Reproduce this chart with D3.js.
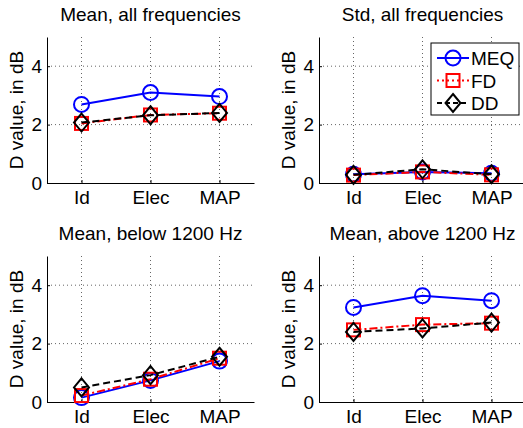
<!DOCTYPE html>
<html>
<head>
<meta charset="utf-8">
<script src="https://cdn.jsdelivr.net/npm/d3@7"></script>
<style>
  body { margin: 0; background: #fff; }
  svg { display: block; font-family: "Liberation Sans", Arial, Helvetica, sans-serif; }
</style>
</head>
<body>
<svg id="chart"></svg>
<script>
const width = 523;
const height = 428;

const categories = ["Id", "Elec", "MAP"];
const panelTitles = ["Mean, all frequencies", "Std, all frequencies", "Mean, below 1200 Hz", "Mean, above 1200 Hz"];
const seriesNames = ["MEQ", "FD", "DD"];
const yTicks = [0, 2, 4];

// one row per panel, one value per category
const meqValues = [[2.69, 3.10, 2.96], [0.30, 0.38, 0.33], [0.15, 0.74, 1.40], [3.24, 3.64, 3.47]];
const fdValues  = [[2.04, 2.33, 2.39], [0.27, 0.38, 0.28], [0.22, 0.78, 1.50], [2.47, 2.65, 2.70]];
const ddValues  = [[2.07, 2.32, 2.40], [0.28, 0.47, 0.30], [0.50, 0.92, 1.55], [2.40, 2.52, 2.72]];

// panel frames (plot area)
const panels = [
  { left: 47,  right: 254, top: 37,  bottom: 183 },
  { left: 319, right: 526, top: 37,  bottom: 183 },
  { left: 47,  right: 254, top: 256, bottom: 402 },
  { left: 319, right: 526, top: 256, bottom: 402 }
];

const styles = [
  { color: "#0000ff", dash: null,      legendDash: null,  marker: "circle" },
  { color: "#ff0000", dash: "8,3,2,3", legendDash: "2,3", marker: "square" },
  { color: "#000000", dash: "7,4",     legendDash: "5,3", marker: "diamond" }
];

const fontSize = 19;

const svg = d3.select("#chart").attr("width", width).attr("height", height);

const drawMarker = (g, type, x, y, color) => {
  if (type === "circle") {
    g.append("circle").attr("cx", x).attr("cy", y).attr("r", 7.5)
      .attr("fill", "none").attr("stroke", color).attr("stroke-width", 2);
  } else if (type === "square") {
    g.append("rect").attr("x", x - 6.5).attr("y", y - 6.5).attr("width", 13).attr("height", 13)
      .attr("fill", "none").attr("stroke", color).attr("stroke-width", 2);
  } else {
    g.append("path").attr("d", `M${x},${y - 9}L${x + 7.5},${y}L${x},${y + 9}L${x - 7.5},${y}Z`)
      .attr("fill", "none").attr("stroke", color).attr("stroke-width", 2);
  }
};

panels.forEach((p, i) => {
  const xScale = d3.scaleLinear().domain([0.5, 3.5]).range([p.left, p.right]);
  const yScale = d3.scaleLinear().domain([0, 5]).range([p.bottom, p.top]);
  const g = svg.append("g");

  // grid
  g.selectAll(".gx").data(categories).enter().append("line")
    .attr("x1", (d, k) => xScale(k + 1)).attr("x2", (d, k) => xScale(k + 1))
    .attr("y1", p.top).attr("y2", p.bottom)
    .attr("stroke", "#666").attr("stroke-dasharray", "1,3");
  g.selectAll(".gy").data(yTicks.slice(1)).enter().append("line")
    .attr("x1", p.left).attr("x2", p.right)
    .attr("y1", d => yScale(d)).attr("y2", d => yScale(d))
    .attr("stroke", "#666").attr("stroke-dasharray", "1,3");

  // axes
  const xAxis = d3.axisBottom(xScale).tickValues([1, 2, 3])
    .tickFormat(d => categories[d - 1]).tickSize(-3).tickPadding(8).tickSizeOuter(0);
  const yAxis = d3.axisLeft(yScale).tickValues(yTicks).tickFormat(d3.format("d"))
    .tickSize(-3).tickPadding(5).tickSizeOuter(0);

  const gx = g.append("g").attr("transform", `translate(0,${p.bottom})`).call(xAxis);
  const gy = g.append("g").attr("transform", `translate(${p.left},0)`).call(yAxis);
  [gx, gy].forEach(a => {
    a.attr("font-family", null).attr("font-size", fontSize);
    a.select(".domain").attr("stroke", "#000").attr("stroke-width", 1);
    a.selectAll("text").attr("fill", "#000");
  });

  // title
  g.append("text").attr("x", p.left + 103.5).attr("y", p.top - 16)
    .attr("text-anchor", "middle").attr("font-size", fontSize).text(panelTitles[i]);

  // y label
  g.append("text").attr("transform", `translate(${p.left - 24},${(p.top + p.bottom) / 2}) rotate(-90)`)
    .attr("text-anchor", "middle").attr("font-size", fontSize).text("D value, in dB");

  // series
  const line = d3.line().x((d, k) => xScale(k + 1)).y(d => yScale(d));
  [meqValues[i], fdValues[i], ddValues[i]].forEach((vals, s) => {
    const st = styles[s];
    g.append("path").attr("d", line(vals)).attr("fill", "none")
      .attr("stroke", st.color).attr("stroke-width", 2)
      .attr("stroke-dasharray", st.dash);
    vals.forEach((v, k) => drawMarker(g, st.marker, xScale(k + 1), yScale(v), st.color));
  });
});

// legend
const lg = svg.append("g");
lg.append("rect").attr("x", 431).attr("y", 43).attr("width", 88).attr("height", 72)
  .attr("fill", "#fff").attr("stroke", "#000").attr("stroke-width", 1);
seriesNames.forEach((name, s) => {
  const y = 58 + s * 22.5;
  const st = styles[s];
  lg.append("line").attr("x1", 437).attr("x2", 469).attr("y1", y).attr("y2", y)
    .attr("stroke", st.color).attr("stroke-width", 2).attr("stroke-dasharray", st.legendDash);
  drawMarker(lg, st.marker, 453, y, st.color);
  lg.append("text").attr("x", 471).attr("y", y + 7).attr("font-size", fontSize).text(name);
});
</script>
</body>
</html>
